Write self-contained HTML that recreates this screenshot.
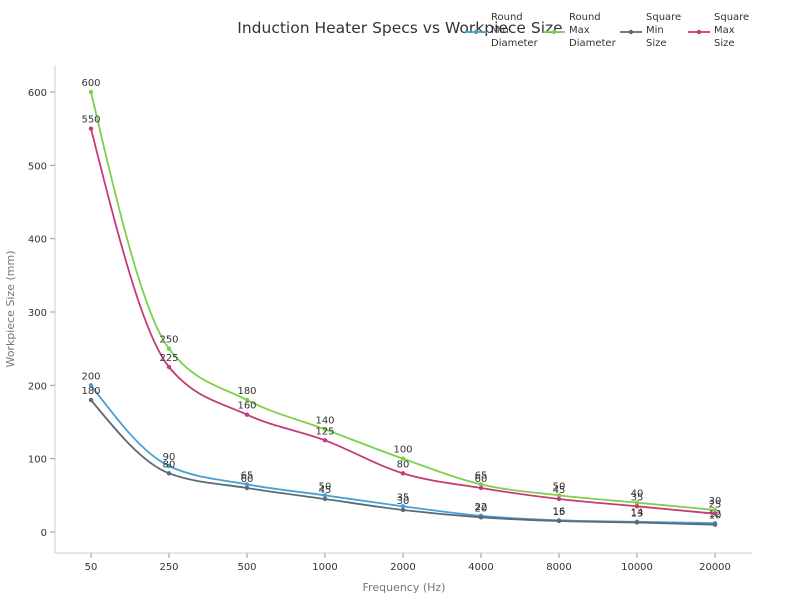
<!DOCTYPE html>
<html><head><meta charset="utf-8"><style>
body{margin:0;background:#fff;font-family:"Liberation Sans","DejaVu Sans",sans-serif}
svg text{font-family:"DejaVu Sans","Liberation Sans",sans-serif}
</style></head><body>
<svg width="800" height="600" id="c">
<text x="400" y="33" text-anchor="middle" font-size="15.5" fill="#333">Induction Heater Specs vs Workpiece Size</text>
<line x1="55" y1="65" x2="55" y2="553" stroke="#ccc"/>
<line x1="55" y1="553" x2="752" y2="553" stroke="#ccc"/>
<text transform="translate(14,309) rotate(-90)" text-anchor="middle" font-size="11" fill="#777">Workpiece Size (mm)</text>
<text x="404" y="591" text-anchor="middle" font-size="11" fill="#777">Frequency (Hz)</text>
<g id="ticks"></g><g id="series"></g><g id="legend"></g>
</svg>
<script>
const categories=["50","250","500","1000","2000","4000","8000","10000","20000"];
const roundMin=[200,90,65,50,35,22,16,14,12];
const roundMax=[600,250,180,140,100,65,50,40,30];
const squareMin=[180,80,60,45,30,20,15,13,10];
const squareMax=[550,225,160,125,80,60,45,35,25];
const yTicks=[0,100,200,300,400,500,600];
const names=["Round Min Diameter","Round Max Diameter","Square Min Size","Square Max Size"];
const NS="http://www.w3.org/2000/svg";
const xS=i=>91+i*78;
const yS=v=>532-v*(440/600);
function mk(t,a,p){const e=document.createElementNS(NS,t);for(const k in a)e.setAttribute(k,a[k]);p.appendChild(e);return e;}
const tk=document.getElementById('ticks');
yTicks.forEach(v=>{const y=yS(v);
const l=mk('line',{x1:50,x2:55,y1:y,y2:y,stroke:'#999'},tk);


const t=mk('text',{x:47,y:y+4,'text-anchor':'end','font-size':10,fill:'#333'},tk);t.textContent=v;

});
categories.forEach((c,i)=>{const x=xS(i);
const l=mk('line',{x1:x,x2:x,y1:553,y2:558,stroke:'#999'},tk);


const t=mk('text',{x:x,y:570,'text-anchor':'middle','font-size':10,fill:'#333'},tk);t.textContent=c;

});
function monoX(pts){const n=pts.length,s=[],m=[];
for(let i=0;i<n-1;i++)s.push((pts[i+1][1]-pts[i][1])/(pts[i+1][0]-pts[i][0]));
const sg=v=>v<0?-1:1;
for(let i=1;i<n-1;i++){const h0=pts[i][0]-pts[i-1][0],h1=pts[i+1][0]-pts[i][0];
const p=(s[i-1]*h1+s[i]*h0)/(h0+h1);
m[i]=(sg(s[i-1])+sg(s[i]))*Math.min(Math.abs(s[i-1]),Math.abs(s[i]),0.5*Math.abs(p))||0;}
m[0]=(3*s[0]-m[1])/2;m[n-1]=(3*s[n-2]-m[n-2])/2;
let d=`M${pts[0][0]},${pts[0][1]}`;
for(let i=0;i<n-1;i++){const h=(pts[i+1][0]-pts[i][0])/3;
d+=`C${pts[i][0]+h},${pts[i][1]+m[i]*h} ${pts[i+1][0]-h},${pts[i+1][1]-m[i+1]*h} ${pts[i+1][0]},${pts[i+1][1]}`;}
return d;}
const sgp=document.getElementById('series');
const series=[roundMin,roundMax,squareMin,squareMax];
const colors=["#4a9fd4","#7ed04a","#5a6b78","#c83a73"];
const sn=["round-min","round-max","square-min","square-max"];
series.forEach((vals,k)=>{const g=mk('g',{},sgp);


const pts=vals.map((v,i)=>[xS(i),yS(v)]);
const p=mk('path',{d:monoX(pts),fill:'none',stroke:colors[k],'stroke-width':1.8},g);


pts.forEach((q,i)=>{const c=mk('circle',{cx:q[0],cy:q[1],r:2.2,fill:colors[k]},g);


const t=mk('text',{x:q[0],y:q[1]-6,'text-anchor':'middle','font-size':10,fill:'#333'},g);t.textContent=vals[i];

});});
const lg=document.getElementById('legend');
const lx=[465,543,620,688];
names.forEach((n,k)=>{const g=mk('g',{},lg);


mk('line',{x1:lx[k],x2:lx[k]+22,y1:32,y2:32,stroke:colors[k],'stroke-width':1.8},g);
mk('circle',{cx:lx[k]+11,cy:32,r:2.2,fill:colors[k]},g);
n.split(' ').forEach((w,j)=>{const t=mk('text',{x:lx[k]+26,y:20+j*13,'font-size':10,fill:'#333'},g);t.textContent=w;});});
</script>
</body></html>
